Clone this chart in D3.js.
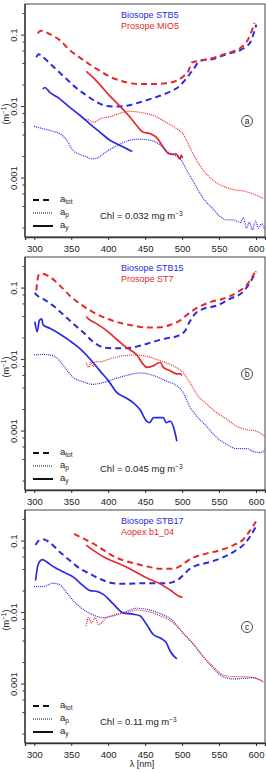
<!DOCTYPE html>
<html lang="en">
<head>
<meta charset="UTF-8">
<title>Absorption spectra</title>
<script src="https://cdn.jsdelivr.net/npm/d3@7"></script>
<style>
  body { margin: 0; background: #fff; }
  text { font-family: "Liberation Sans", Arial, sans-serif; }
</style>
</head>
<body>
<div id="mainContent"></div>
<script>
// ---- data: [wavelength nm, absorption m^-1] ----
// panel a : Biosope STB5 (blue) / Prosope MIO5 (red)
const aBlueTot = [[302.7,0.049],[305.8,0.054],[309.9,0.051],[317,0.044],[330.4,0.0325],[343.6,0.0243],[356.9,0.0182],[371.3,0.0142],[384.6,0.0115],[397.9,0.0102],[411.1,0.0100],[425.4,0.0103],[442.9,0.0115],[461.3,0.0132],[478.6,0.0153],[497,0.0196],[506.3,0.0251],[515.5,0.0336],[524.7,0.0439],[542,0.0463],[560.5,0.0543],[578.9,0.0618],[592.2,0.079],[598,0.115],[600.5,0.14]];
const aRedTot = [[304.8,0.105],[306.8,0.112],[309.9,0.115],[321.1,0.103],[334.4,0.085],[347.7,0.062],[362.1,0.048],[375.4,0.0385],[388.6,0.0318],[401.9,0.0262],[416.3,0.0231],[429.6,0.0212],[442.9,0.0207],[461.3,0.0207],[478.6,0.0212],[492.9,0.0231],[501.1,0.0262],[508.3,0.0311],[513.4,0.0416],[524.7,0.0439],[542,0.048],[560.5,0.0555],[578.9,0.066],[590,0.09],[598,0.148]];
const aBlueY = [[311.9,0.0175],[314,0.0185],[321.1,0.0158],[334.4,0.0128],[347.7,0.0098],[362.1,0.0075],[375.4,0.0057],[388.6,0.0044],[401.9,0.0034],[416.3,0.00286],[429.6,0.00243],[432.6,0.00235]];
const aRedY = [[370.2,0.031],[378.4,0.0262],[388.6,0.0203],[401.9,0.0142],[416.3,0.0100],[429.6,0.0071],[438.8,0.0054],[446.9,0.0044],[456.1,0.0042],[465.4,0.0037],[474.6,0.0027],[481.7,0.0022],[487.8,0.00215],[491,0.0022],[494,0.00207],[497,0.00186],[499,0.0021],[500.5,0.0019]];
const aBlueP = [[299.7,0.0053],[311.9,0.0049],[325.2,0.0045],[334.4,0.0042],[343.6,0.0034],[352.9,0.0024],[362.1,0.00214],[370.2,0.0020],[377.4,0.00186],[384.6,0.0019],[393.8,0.0022],[401.9,0.0025],[416.3,0.0030],[429.6,0.0034],[442.9,0.0035],[456.1,0.0034],[470.5,0.0029],[478.6,0.0024],[492.9,0.0020],[499.1,0.00177],[506.3,0.00128],[515.5,0.00088],[524.7,0.0006],[532.9,0.00046],[542,0.00037],[551.3,0.00029],[560.5,0.00026],[569.7,0.00026],[578.9,0.00024],[583,0.00028],[587,0.0002],[591.1,0.00024],[595.2,0.00019],[599.3,0.00025],[603.4,0.0002],[607.5,0.00023],[611.6,0.00019]];
const aRedP = [[370.2,0.0067],[375.4,0.0064],[380.5,0.0060],[388.6,0.0067],[401.9,0.0072],[416.3,0.0081],[429.6,0.0086],[442.9,0.0083],[461.3,0.0075],[478.6,0.0060],[492.9,0.0049],[501.1,0.0042],[510.4,0.0027],[519.6,0.00177],[528.8,0.00128],[542,0.00093],[555.4,0.00077],[569.7,0.00069],[583,0.00066],[596.3,0.0006],[609.6,0.00052]];

// panel b : Biosope STB15 (blue) / Prosope ST7 (red)
const bBlueTot = [[300.7,0.086],[303.8,0.079],[311.9,0.0708],[325.2,0.057],[339.6,0.0422],[352.9,0.0316],[366.1,0.0241],[379.4,0.0178],[393.8,0.0148],[407.1,0.0144],[424.4,0.0144],[442.9,0.0156],[461.3,0.0178],[478.6,0.0198],[492.9,0.0212],[504.2,0.0254],[510.4,0.034],[517.5,0.0436],[528.8,0.0513],[547.2,0.057],[564.6,0.0708],[583,0.0898],[594,0.13],[600,0.171]];
const bRedTot = [[302.7,0.093],[305.8,0.151],[309.9,0.159],[321.1,0.143],[334.4,0.109],[347.7,0.079],[362.1,0.060],[375.4,0.0486],[388.6,0.0413],[401.9,0.0363],[416.3,0.0326],[433.6,0.0299],[452,0.028],[470.5,0.0283],[483.8,0.0305],[497,0.0351],[508.3,0.0436],[519.6,0.0523],[538,0.0636],[555.4,0.0708],[573.8,0.086],[587,0.109],[598.3,0.164]];
const bBlueY = [[300.7,0.034],[303.8,0.0246],[306.8,0.0351],[309.9,0.0371],[311.9,0.0305],[321.1,0.0274],[334.4,0.0228],[347.7,0.0184],[362.1,0.0141],[375.4,0.0102],[388.6,0.0070],[401.9,0.0048],[411.1,0.0035],[424.4,0.0029],[433.6,0.0025],[442.9,0.0020],[452,0.00138],[456.1,0.00131],[461.3,0.00154],[470.5,0.00154],[474.6,0.00154],[478.6,0.00131],[483.8,0.00138],[489.9,0.0010],[492.9,0.00072]];
const bRedY = [[370.2,0.040],[373.3,0.037],[384.6,0.0316],[397.9,0.0254],[411.1,0.0194],[424.4,0.0148],[438.8,0.0116],[446.9,0.0087],[452,0.0078],[461.3,0.0082],[465.4,0.0087],[470.5,0.0091],[474.6,0.0078],[483.8,0.0070],[492.9,0.0063],[497,0.0063],[500,0.006]];
const bBlueP = [[299.7,0.0116],[311.9,0.0118],[325.2,0.0113],[334.4,0.0096],[343.6,0.0072],[352.9,0.0056],[366.1,0.0049],[379.4,0.0045],[393.8,0.0048],[407.1,0.0053],[424.4,0.0060],[442.9,0.0065],[461.3,0.0060],[478.6,0.0050],[492.9,0.0043],[501.1,0.0035],[510.4,0.0022],[519.6,0.00163],[532.9,0.00117],[547.2,0.00081],[560.5,0.00065],[573.8,0.00057],[587,0.00057],[596.3,0.00052],[605.5,0.0005],[612.6,0.00055]];
const bRedP = [[370.2,0.0091],[373.3,0.0078],[376.4,0.0092],[379.4,0.0080],[382.5,0.0094],[388.6,0.0093],[401.9,0.0102],[416.3,0.0111],[433.6,0.0116],[452,0.0111],[470.5,0.0096],[487.8,0.0082],[501.1,0.0066],[510.4,0.0048],[519.6,0.0033],[532.9,0.0024],[547.2,0.0018],[560.5,0.00146],[573.8,0.00117],[587,0.00105],[600.4,0.0010],[612.6,0.00083]];

// panel c : Biosope STB17 (blue) / Aopex b1_04 (red)
const cBlueTot = [[301.7,0.088],[305.8,0.101],[311.9,0.106],[321.1,0.095],[334.4,0.0706],[347.7,0.0538],[362.1,0.041],[375.4,0.0348],[388.6,0.0296],[407.1,0.0257],[424.4,0.0252],[442.9,0.0257],[461.3,0.0257],[478.6,0.0257],[492.9,0.0281],[501.1,0.033],[510.4,0.041],[519.6,0.0457],[532.9,0.0493],[551.3,0.0569],[569.7,0.0706],[587,0.098],[600,0.16]];
const cRedTot = [[353.9,0.126],[366.1,0.109],[379.4,0.0927],[393.8,0.0746],[407.1,0.0614],[420.4,0.0538],[433.6,0.0493],[452,0.0443],[470.5,0.041],[487.8,0.041],[499.1,0.0457],[508.3,0.0538],[517.5,0.06],[532.9,0.0668],[551.3,0.0746],[569.7,0.0878],[583,0.106],[594,0.151],[600,0.188]];
const cBlueY = [[301.7,0.0281],[304.8,0.0457],[307.8,0.0527],[310.9,0.0551],[317,0.051],[325.2,0.0443],[339.6,0.0368],[352.9,0.0313],[366.1,0.0238],[375.4,0.0203],[384.6,0.0198],[393.8,0.0178],[407.1,0.0131],[420.4,0.0099],[433.6,0.0095],[442.9,0.009],[452,0.0068],[461.3,0.0049],[470.5,0.0044],[478.6,0.0038],[483.8,0.0029],[489.9,0.0024],[492.9,0.00226]];
const cRedY = [[370.2,0.0878],[379.4,0.0746],[397.9,0.0569],[416.3,0.0473],[433.6,0.0389],[452,0.0306],[470.5,0.0252],[483.8,0.0207],[497,0.0167],[500.5,0.0163]];
const cBlueP = [[299.7,0.0231],[311.9,0.0231],[325.2,0.0257],[334.4,0.0246],[343.6,0.0192],[352.9,0.0146],[366.1,0.0111],[379.4,0.0093],[393.8,0.0085],[407.1,0.009],[420.4,0.010],[438.8,0.0115],[452,0.0111],[470.5,0.0097],[487.8,0.0076],[501.1,0.0052],[515.5,0.0036],[528.8,0.0024],[542,0.00167],[555.4,0.00127],[569.7,0.00118],[583,0.0012],[596.3,0.00123],[609.6,0.00108]];
const cRedP = [[370.2,0.0065],[373.3,0.0085],[377.4,0.0072],[382.5,0.0085],[386.6,0.0068],[397.9,0.0085],[411.1,0.0095],[424.4,0.010],[438.8,0.0108],[452,0.0104],[470.5,0.009],[487.8,0.0072],[501.1,0.0052],[515.5,0.0036],[528.8,0.0024],[542,0.00176],[555.4,0.00134],[569.7,0.00127],[583,0.00127],[596.3,0.00123],[609.6,0.00108]];

const xTicks = [300, 350, 400, 450, 500, 550, 600];
const yMajor = [0.1, 0.01, 0.001];
const blueNames = ["Biosope STB5", "Biosope STB15", "Biosope STB17"];
const redNames = ["Prosope MIO5", "Prosope ST7", "Aopex b1_04"];
const chlValues = ["0.032", "0.045", "0.11"];
const panelLetters = ["a", "b", "c"];

const blue = "#2a2ae0", red = "#e6282c";

const W = 266, H = 773;
const left = 25, right = 265, panelH = 233;
const tops = [4, 257, 510];

const svg = d3.select("#mainContent").append("svg")
    .attr("width", W).attr("height", H);

const x = d3.scaleLinear().domain([287.4, 612.2]).range([left, right]);

// minor log ticks at 2,4,6,8 x 10^n
let yMinor = [];
[-4, -3, -2, -1].forEach(e => [2, 4, 6, 8].forEach(m => yMinor.push(m * Math.pow(10, e))));

const panelData = [
    [aBlueTot, aRedTot, aBlueY, aRedY, aBlueP, aRedP],
    [bBlueTot, bRedTot, bBlueY, bRedY, bBlueP, bRedP],
    [cBlueTot, cRedTot, cBlueY, cRedY, cBlueP, cRedP]
];

const styles = [
    {color: blue, dash: "6,4", w: 2},
    {color: red, dash: "6,4", w: 2},
    {color: blue, dash: null, w: 1.7},
    {color: red, dash: null, w: 1.7},
    {color: blue, dash: "1,1", w: 1.2},
    {color: red, dash: "1,1", w: 1.2}
];

panelData.forEach((series, pi) => {
    const top = tops[pi];
    const bottom = top + panelH;
    const y = d3.scaleLog().domain([1.5e-4, 0.272]).range([bottom, top]);
    const g = svg.append("g");

    // frame
    g.append("rect")
        .attr("x", left).attr("y", top)
        .attr("width", right - left).attr("height", panelH)
        .attr("fill", "none").attr("stroke", "#444").attr("stroke-width", 1);

    const clipId = "clip" + pi;
    g.append("clipPath").attr("id", clipId).append("rect")
        .attr("x", left).attr("y", top).attr("width", right - left).attr("height", panelH);

    const line = d3.line()
        .x(d => x(d[0]))
        .y(d => y(d[1]))
        .curve(d3.curveMonotoneX);

    const lines = g.append("g").attr("clip-path", "url(#" + clipId + ")");
    series.forEach((s, i) => {
        lines.append("path")
            .attr("d", line(s))
            .attr("fill", "none")
            .attr("stroke", styles[i].color)
            .attr("stroke-width", styles[i].w)
            .attr("stroke-dasharray", styles[i].dash);
    });

    // x axis
    const xAxis = d3.axisBottom(x).tickValues(xTicks).tickSize(3).tickPadding(5);
    const xg = g.append("g").attr("transform", "translate(0," + bottom + ")").call(xAxis);
    xg.select(".domain").attr("stroke", "#333").attr("stroke-width", 1.3);
    xg.selectAll(".tick line").attr("stroke", "#333");
    xg.selectAll(".tick text").attr("font-size", 9.5).attr("fill", "#222")
        .attr("font-family", "Liberation Sans, Arial, sans-serif");

    // y axis (log, minor ticks)
    const yg = g.append("g").attr("transform", "translate(" + left + ",0)");
    yg.append("line").attr("x1", 0).attr("x2", 0).attr("y1", top).attr("y2", bottom)
        .attr("stroke", "#333").attr("stroke-width", 1.3);
    yg.selectAll(".minor").data(yMinor.filter(v => v > 1.5e-4 && v < 0.272)).enter()
        .append("line").attr("class", "minor")
        .attr("x1", -2.5).attr("x2", 0)
        .attr("y1", d => y(d)).attr("y2", d => y(d))
        .attr("stroke", "#333");
    yg.selectAll(".major").data(yMajor).enter()
        .append("line").attr("class", "major")
        .attr("x1", -4).attr("x2", 0)
        .attr("y1", d => y(d)).attr("y2", d => y(d))
        .attr("stroke", "#333");
    yg.selectAll(".lab").data(yMajor).enter()
        .append("text")
        .attr("transform", d => "translate(-8," + y(d) + ") rotate(-90)")
        .attr("text-anchor", "middle")
        .attr("font-size", 9.5).attr("fill", "#222")
        .text(d => String(d));

    // y label
    const yl = g.append("text")
        .attr("transform", "translate(9," + (top + 110) + ") rotate(-90)")
        .attr("text-anchor", "middle").attr("font-size", 9).attr("fill", "#222");
    yl.append("tspan").text("(m");
    yl.append("tspan").attr("dy", -3).attr("font-size", 6.5).text("\u22121");
    yl.append("tspan").attr("dy", 3).text(")");

    // titles
    g.append("text").attr("x", 121).attr("y", top + 14)
        .attr("font-size", 9).attr("fill", blue).text(blueNames[pi]);
    g.append("text").attr("x", 121).attr("y", top + 25)
        .attr("font-size", 9).attr("fill", red).text(redNames[pi]);

    // circled letter
    g.append("circle").attr("cx", 247).attr("cy", top + 117).attr("r", 5.5)
        .attr("fill", "none").attr("stroke", "#333").attr("stroke-width", 0.9);
    g.append("text").attr("x", 247).attr("y", top + 120)
        .attr("text-anchor", "middle").attr("font-size", 8.5).attr("fill", "#222")
        .text(panelLetters[pi]);

    // legend
    const legItems = [
        {dash: "6,4", w: 2, sub: "tot", dy: 196},
        {dash: "1,1", w: 1.2, sub: "p", dy: 209},
        {dash: null, w: 2, sub: "y", dy: 222}
    ];
    legItems.forEach(it => {
        g.append("line")
            .attr("x1", 33).attr("x2", 53)
            .attr("y1", top + it.dy).attr("y2", top + it.dy)
            .attr("stroke", "#111").attr("stroke-width", it.w)
            .attr("stroke-dasharray", it.dash);
        const t = g.append("text").attr("x", 60).attr("y", top + it.dy + 2)
            .attr("font-size", 9.5).attr("fill", "#222");
        t.append("tspan").text("a");
        t.append("tspan").attr("dy", 2).attr("font-size", 6.5).text(it.sub);
    });

    // chl annotation
    const ct = g.append("text").attr("x", 100).attr("y", top + 215)
        .attr("font-size", 9.5).attr("fill", "#222");
    ct.append("tspan").text("Chl = " + chlValues[pi] + " mg  m");
    ct.append("tspan").attr("dy", -3).attr("font-size", 6.5).text("\u22123");
});

// x label (bottom panel only)
svg.append("text").attr("x", 142).attr("y", 767)
    .attr("text-anchor", "middle").attr("font-size", 9).attr("fill", "#222")
    .text("\u03bb [nm]");
</script>
</body>
</html>
